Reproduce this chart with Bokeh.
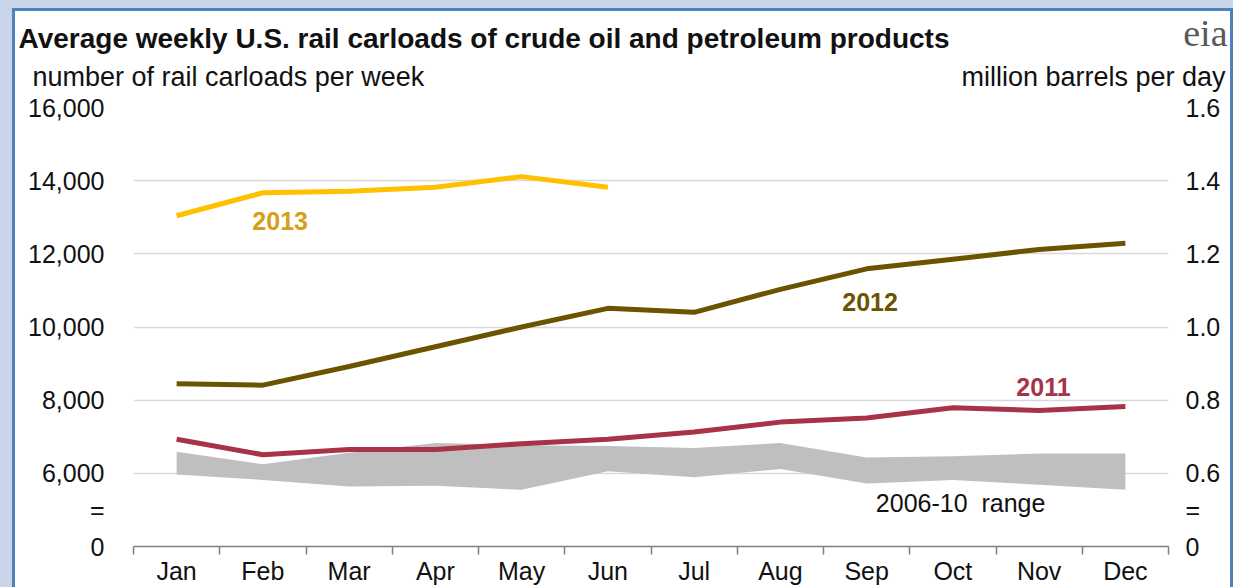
from bokeh.plotting import figure
from bokeh.models import FixedTicker, LinearAxis, Label, Range1d, Title
from bokeh.embed import file_html
from bokeh.resources import INLINE

# ---------------- data ----------------
months = ["Jan", "Feb", "Mar", "Apr", "May", "Jun", "Jul", "Aug", "Sep", "Oct", "Nov", "Dec"]
carloads_2013 = [13040, 13670, 13710, 13820, 14110, 13820]
carloads_2012 = [8450, 8410, 8920, 9460, 10000, 10510, 10400, 11030, 11590, 11850, 12120, 12290]
carloads_2011 = [6930, 6510, 6650, 6650, 6810, 6930, 7130, 7400, 7510, 7790, 7720, 7830]
range_high = [6590, 6250, 6560, 6830, 6770, 6750, 6690, 6830, 6430, 6470, 6540, 6540]
range_low = [5970, 5820, 5640, 5660, 5550, 6060, 5890, 6120, 5720, 5820, 5690, 5550]

left_tick_values = [4000, 5000, 6000, 8000, 10000, 12000, 14000, 16000]
left_tick_labels = ["0", "=", "6,000", "8,000", "10,000", "12,000", "14,000", "16,000"]
right_tick_labels = ["0", "=", "0.6", "0.8", "1.0", "1.2", "1.4", "1.6"]
grid_values = [6000, 8000, 10000, 12000, 14000, 16000]
unit_titles = ["number of rail carloads per week", "million barrels per day"]
unit_title_pos = [0.60, 10.63]

FONT = "Liberation Sans"
TXT = "#111111"
x = list(range(len(months)))

p = figure(width=1215, height=576, output_backend="svg", toolbar_location=None,
           x_range=Range1d(-0.5, 11.5), y_range=Range1d(4000, 16000),
           min_border_left=118, min_border_right=62, min_border_top=96, min_border_bottom=38)
p.styles = {"margin-left": "15px", "margin-top": "11px",
            "box-shadow": "0 0 0 3px #4F81BD, 0 0 0 15px #C9D6EA"}
p.outline_line_color = None
p.background_fill_color = "white"
p.border_fill_color = "white"
p.title.text = ""

# unit titles as a top axis without line/ticks (nearest the frame)
ta = LinearAxis(ticker=FixedTicker(ticks=unit_title_pos),
                major_label_overrides=dict(zip(unit_title_pos, unit_titles)))
ta.axis_line_color = None
ta.major_tick_line_color = None
ta.minor_tick_line_color = None
ta.major_tick_out = 0
ta.minor_tick_out = 0
ta.major_label_standoff = 16
ta.major_label_text_font = FONT
ta.major_label_text_font_size = "27px"
ta.major_label_text_color = TXT
p.add_layout(ta, "above")

# main title
main_title = Title(text="Average weekly U.S. rail carloads of crude oil and petroleum products",
                   align="left", offset=-115, standoff=10, text_font=FONT,
                   text_font_size="28px", text_font_style="bold", text_color=TXT)
p.add_layout(main_title, "above")

# logo text, overlapping the title row
logo = Title(text="eia", align="right", offset=-59, standoff=-76,
             text_font="Liberation Serif", text_font_size="38px", text_color="#595959",
             text_font_style="normal")
p.add_layout(logo, "above")

# x axis
xa = p.below[0]
xa.ticker = FixedTicker(ticks=x, minor_ticks=[i - 0.5 for i in range(len(months) + 1)])
xa.major_label_overrides = {i: m for i, m in enumerate(months)}
xa.major_tick_out = 0
xa.major_tick_in = 0
xa.minor_tick_out = 8
xa.minor_tick_in = 0
xa.minor_tick_line_color = "#7F7F7F"
xa.minor_tick_line_width = 1.5
xa.axis_line_color = "#7F7F7F"
xa.axis_line_width = 1.5
xa.major_label_standoff = 2
xa.major_label_text_font = FONT
xa.major_label_text_font_size = "25px"
xa.major_label_text_color = TXT

# left axis
ya = p.left[0]
ya.ticker = FixedTicker(ticks=left_tick_values)
ya.major_label_overrides = dict(zip(left_tick_values, left_tick_labels))
ya.axis_line_color = None
ya.major_tick_line_color = None
ya.minor_tick_line_color = None
ya.major_tick_out = 0
ya.major_label_standoff = 29
ya.major_label_text_font = FONT
ya.major_label_text_font_size = "25px"
ya.major_label_text_color = TXT

# right axis
ra = LinearAxis(ticker=FixedTicker(ticks=left_tick_values),
                major_label_overrides=dict(zip(left_tick_values, right_tick_labels)))
ra.axis_line_color = None
ra.major_tick_line_color = None
ra.minor_tick_line_color = None
ra.major_tick_out = 0
ra.major_label_standoff = 17
ra.major_label_text_font = FONT
ra.major_label_text_font_size = "25px"
ra.major_label_text_color = TXT
p.add_layout(ra, "right")

p.xgrid.grid_line_color = None
p.ygrid.ticker = FixedTicker(ticks=grid_values)
p.ygrid.grid_line_color = "#D9D9D9"
p.ygrid.grid_line_width = 1.5

# series
p.varea(x=x, y1=range_low, y2=range_high, fill_color="#BFBFBF")
p.line(x, carloads_2011, line_color="#A83246", line_width=5, line_join="round")
p.line(x, carloads_2012, line_color="#6B5400", line_width=5, line_join="round")
p.line(x[:len(carloads_2013)], carloads_2013, line_color="#FFC000", line_width=5, line_join="round")

def lab(xv, yv, text, size, color, style="normal", align="center"):
    p.add_layout(Label(x=xv, y=yv, text=text, text_font=FONT, text_font_size=size,
                       text_color=color, text_font_style=style, text_align=align,
                       text_baseline="middle"))

lab(1.20, 12890, "2013", "25px", "#D4A017", "bold")
lab(8.04, 10680, "2012", "25px", "#6B5400", "bold")
lab(10.05, 8360, "2011", "25px", "#A83246", "bold")
lab(9.09, 5200, "2006-10\u00a0 range", "25px", TXT)

open("out.html", "w").write(file_html(p, INLINE))
